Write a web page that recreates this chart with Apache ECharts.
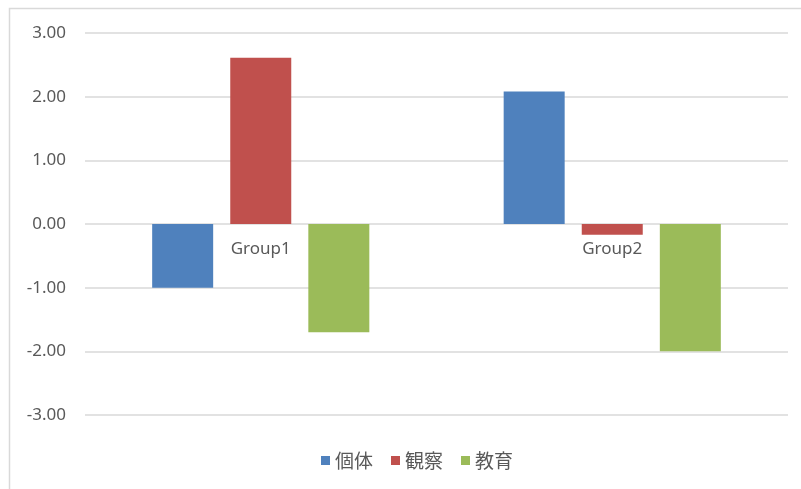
<!DOCTYPE html>
<html><head><meta charset="utf-8">
<script src="https://cdn.jsdelivr.net/npm/echarts@6/dist/echarts.min.js"></script>
<style>html,body{margin:0;padding:0;background:#fff}#c{width:801px;height:489px}</style>
</head><body><div id="c"></div>
<script>
const categories = ["Group1", "Group2"];
const seriesNames = ["個体", "観察", "教育"];
const kotai = [-1.00, 2.08];
const kansatsu = [2.61, -0.17];
const kyouiku = [-1.70, -2.00];
const colors = ["#4f81bd", "#c0504d", "#9bbb59"];

const chart = echarts.init(document.getElementById('c'), null, {renderer: 'canvas'});
const font = '"Noto Sans", "Noto Sans CJK JP", sans-serif';
const vals = [kotai, kansatsu, kyouiku];
chart.setOption({
  animation: false,
  textStyle: {fontFamily: font},
  graphic: [{type: 'rect', shape: {x: 9.5, y: 8.5, width: 800, height: 500}, style: {fill: 'none', stroke: '#d9d9d9', lineWidth: 1.5}, silent: true}],
  grid: {left: 85, right: 13, top: 33, bottom: 74},
  legend: {
    top: 446, left: 316, itemWidth: 9, itemHeight: 9, itemGap: 18,
    icon: 'rect',
    textStyle: {fontSize: 19, color: '#595959', fontFamily: '"Noto Sans CJK JP", sans-serif'},
    data: seriesNames
  },
  xAxis: {
    type: 'category', data: categories,
    offset: -191,
    axisLine: {onZero: false, show: false},
    axisTick: {show: false},
    axisLabel: {color: '#595959', fontSize: 17, margin: 17}
  },
  yAxis: {
    type: 'value', min: -3, max: 3, interval: 1,
    axisLine: {show: false}, axisTick: {show: false},
    axisLabel: {color: '#595959', fontSize: 17, margin: 19, formatter: v => v.toFixed(2)},
    splitLine: {lineStyle: {color: '#d9d9d9', width: 1.5}}
  },
  series: seriesNames.map((n, i) => ({
    name: n, type: 'bar', data: vals[i], barWidth: 61, barGap: '28%',
    itemStyle: {color: colors[i]}
  }))
});
</script></body></html>
